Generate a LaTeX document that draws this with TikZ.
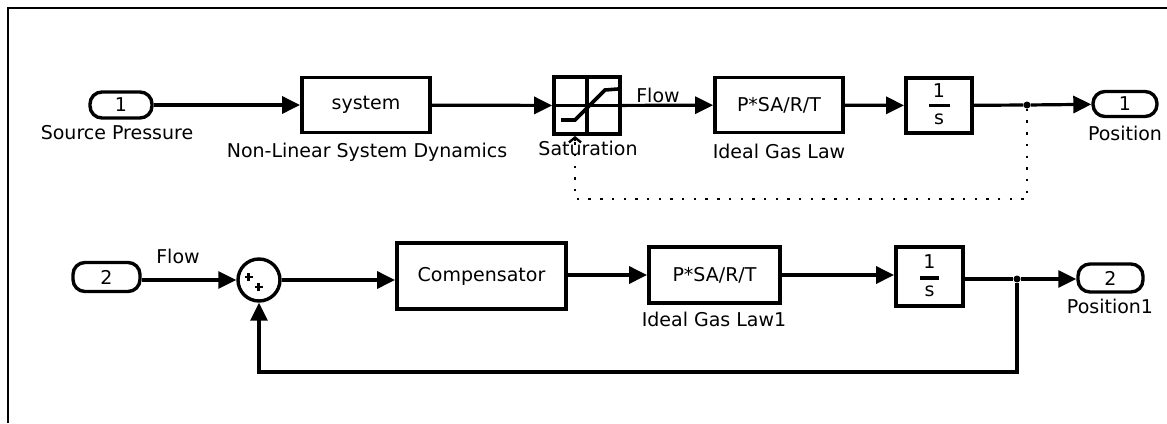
\documentclass[tikz,border=0pt]{standalone}
\usepackage{fontspec}
\setmainfont{DejaVu Sans}
\usetikzlibrary{arrows.meta}

\tikzset{
  blockbox/.style={draw, line width=3.8pt, minimum width=#1, inner sep=0pt},
  portbox/.style={draw, line width=3.4pt, rounded corners=12pt, inner sep=0pt,
                  minimum height=26pt},
  sumnode/.style={draw, circle, line width=3.4pt, minimum size=42pt, inner sep=0pt},
  lbl/.style={inner sep=0pt, font=\fontsize{19}{21}\selectfont},
  wire/.style={line width=3.2pt, -{Triangle[length=18pt,width=17pt]}},
  plainwire/.style={line width=3.2pt},
  dotwire/.style={line width=2.4pt, dash pattern=on 2.4pt off 9.3pt},
  junction/.style={circle, fill, inner sep=0pt, minimum size=7pt},
}

\begin{document}
\begin{tikzpicture}[x=1pt, y=-1pt, font=\fontsize{19}{21}\selectfont]
\useasboundingbox (0,0) rectangle (1167,423);

% frame edges
\draw[line width=1.8pt] (8,423) -- (8,8) -- (1167,8);

% ---------- upper loop ----------
\node[portbox, minimum width=62pt] (in1) at (121,105) {1};
\node[lbl] (in1l) at (117,133) {Source Pressure};

\node[blockbox=128pt, minimum height=55pt] (sys) at (366,105) {system};
\node[lbl] (sysl) at (367,152) {Non-Linear System Dynamics};

\node[blockbox=66pt, minimum height=57pt] (sat) at (587,105.5) {};
\draw[line width=3.6pt] (sat.north) -- (sat.south);
\draw[line width=3.6pt] (sat.west) -- (sat.east);
\draw[line width=3.6pt] (561,120) -- (575,120) -- (605,90) -- (618,89);
\node[lbl] (satl) at (588,148) {Saturation};

\node[blockbox=128pt, minimum height=55pt] (igl) at (779,105) {P*SA/R/T};
\node[lbl] (igll) at (779,151) {Ideal Gas Law};
\node[lbl] (flow1) at (658,95) {Flow};

\node[blockbox=66pt, minimum height=55pt] (int1) at (939,105.5) {};
\node[lbl] (int1n) at (939,91) {1};
\node[lbl] (int1d) at (939,119) {s};
\draw[line width=3.4pt] (929,105.5) -- (950,105.5);

\node[portbox, minimum width=64pt, minimum height=25pt] (out1) at (1125,104) {1};
\node[lbl] (out1l) at (1125,133) {Position};

\node[junction] (b1) at (1027,105) {};
\coordinate (d1) at (1027,199);
\coordinate (d2) at (575,199);
\coordinate (d3) at (575,141);

\draw[wire] (in1) -- (sys);
\draw[wire] (sys) -- (sat);
\draw[wire] (sat) -- (igl);
\draw[wire] (igl) -- (int1);
\draw[plainwire] (int1) -- (b1);
\draw[wire] (b1) -- (out1);
\draw[dotwire] (b1) -- (d1) -- (d2) -- (d3);
\draw[line width=2.4pt, -{Straight Barb[length=5pt,width=12pt]}]
  (d3) -- (d3 |- sat.south);

% ---------- lower loop ----------
\node[portbox, minimum width=67pt, minimum height=29pt] (in2) at (106.5,277) {2};
\node[lbl] (flow2) at (178,256) {Flow};

\node[sumnode] (sum) at (259,280) {};
\draw[line width=2.6pt] (244.5,277) -- (252.5,277) (248.5,273) -- (248.5,281);
\draw[line width=2.6pt] (254.5,287) -- (262.5,287) (258.5,283) -- (258.5,291);

\node[blockbox=169pt, minimum height=66pt] (comp) at (481.5,276) {Compensator};

\node[blockbox=131pt, minimum height=56pt] (igl2) at (714.5,275) {P*SA/R/T};
\node[lbl] (igl2l) at (714,319) {Ideal Gas Law1};

\node[blockbox=67pt, minimum height=59pt] (int2) at (929.5,276.5) {};
\node[lbl] (int2n) at (929.5,262) {1};
\node[lbl] (int2d) at (929.5,291) {s};
\draw[line width=3.4pt] (920,278) -- (939,278);

\node[portbox, minimum width=65pt, minimum height=28pt] (out2) at (1110.5,278) {2};
\node[lbl] (out2l) at (1110,306) {Position1};

\node[junction] (b2) at (1017,279) {};
\coordinate (f1) at (1017,372);
\coordinate (f2) at (259,372);

\draw[wire] (in2.east |- sum.west) -- (sum.west);
\draw[wire] (sum) -- (sum -| comp.west);
\draw[wire] (comp.east |- igl2.west) -- (igl2.west);
\draw[wire] (igl2) -- (igl2 -| int2.west);
\draw[plainwire] (int2.east |- b2) -- (b2);
\draw[wire] (b2) -- (b2 -| out2.west);
\draw[wire] (b2) -- (f1) -- (f2) -- (sum.south);
\end{tikzpicture}
\end{document}
